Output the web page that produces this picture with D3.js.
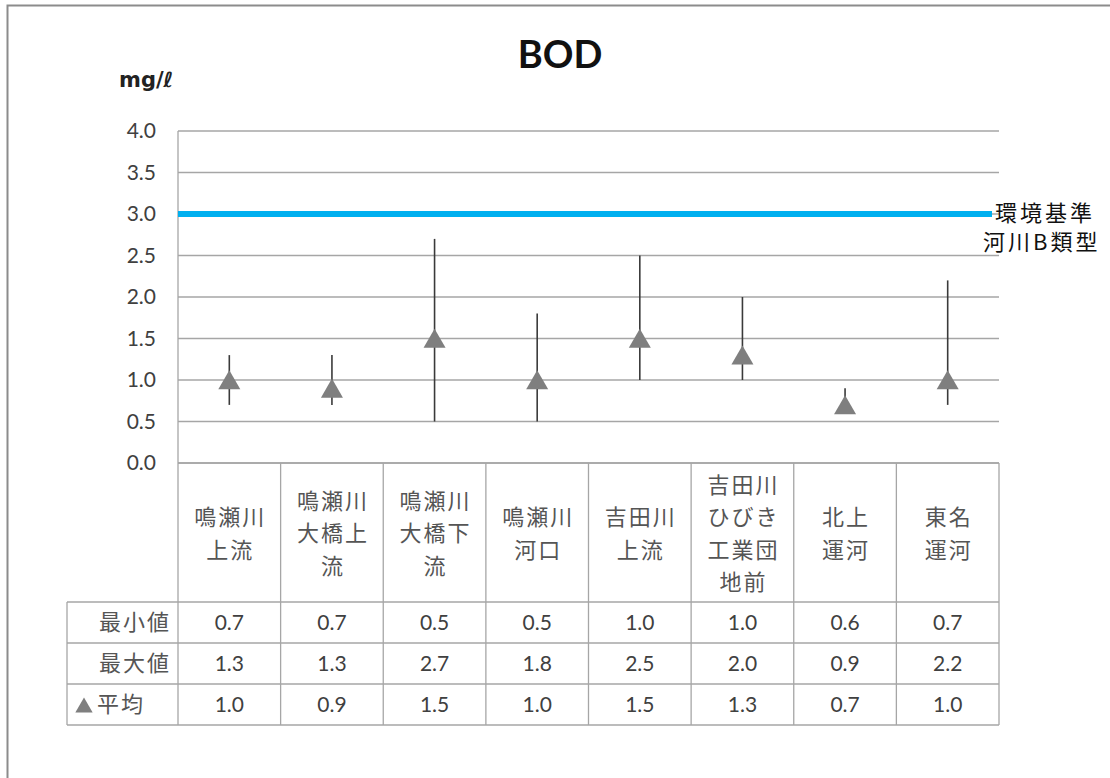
<!DOCTYPE html>
<html lang="ja">
<head>
<meta charset="UTF-8">
<title>BOD</title>
<script src="https://d3js.org/d3.v7.min.js"></script>
<style>
  body { margin: 0; background: #fff; }
  svg { display: block; }
  .num { font-family: Lato, 'Open Sans', sans-serif; fill: #404040; }
  .jp { font-family: 'Noto Sans CJK JP', sans-serif; fill: #555; }
</style>
</head>
<body>
<div id="chart"></div>
<script>
  // data
  const sites = [
    ["鳴瀬川", "上流"],
    ["鳴瀬川", "大橋上", "流"],
    ["鳴瀬川", "大橋下", "流"],
    ["鳴瀬川", "河口"],
    ["吉田川", "上流"],
    ["吉田川", "ひびき", "工業団", "地前"],
    ["北上", "運河"],
    ["東名", "運河"]
  ];
  const minVals = [0.7, 0.7, 0.5, 0.5, 1.0, 1.0, 0.6, 0.7];
  const maxVals = [1.3, 1.3, 2.7, 1.8, 2.5, 2.0, 0.9, 2.2];
  const meanVals = [1.0, 0.9, 1.5, 1.0, 1.5, 1.3, 0.7, 1.0];
  const yTicks = [0, 0.5, 1.0, 1.5, 2.0, 2.5, 3.0, 3.5, 4.0];
  const standardValue = 3.0;
  const rowLabels = ["最小値", "最大値", "平均"];

  const W = 1110, H = 778;
  const plot = { left: 178, right: 999, top: 131, bottom: 463 };
  const tableLeft = 67;
  const headerBottom = 602;
  const rowH = 41;

  const svg = d3.select("#chart").append("svg")
    .attr("width", W).attr("height", H);

  // outer frame (left and top edges visible)
  svg.append("path")
    .attr("d", `M7.5,${H} L7.5,5.5 L${W},5.5`)
    .attr("fill", "none").attr("stroke", "#8c8c8c").attr("stroke-width", 2);

  const x = d3.scaleBand()
    .domain(d3.range(sites.length))
    .range([plot.left, plot.right]);

  const y = d3.scaleLinear()
    .domain([0, 4])
    .range([plot.bottom, plot.top]);

  // gridlines
  svg.append("g").selectAll("line")
    .data(yTicks)
    .join("line")
    .attr("x1", plot.left).attr("x2", plot.right)
    .attr("y1", d => y(d)).attr("y2", d => y(d))
    .attr("stroke", "#a6a6a6").attr("stroke-width", 1.3);

  // y axis
  svg.append("line")
    .attr("x1", plot.left).attr("x2", plot.left)
    .attr("y1", plot.top).attr("y2", plot.bottom)
    .attr("stroke", "#a6a6a6").attr("stroke-width", 1.3);

  svg.append("g").selectAll("text")
    .data(yTicks)
    .join("text")
    .attr("class", "num")
    .attr("x", 156).attr("y", d => y(d))
    .attr("dy", "0.35em")
    .attr("text-anchor", "end")
    .attr("font-size", 21)
    .text(d => d.toFixed(1));

  // environmental standard line
  svg.append("line")
    .attr("x1", plot.left).attr("x2", 992)
    .attr("y1", y(standardValue)).attr("y2", y(standardValue))
    .attr("stroke", "#00b0f0").attr("stroke-width", 6);

  svg.append("text")
    .attr("class", "jp")
    .attr("x", 995).attr("y", y(standardValue) - 1)
    .attr("dy", "0.38em")
    .attr("font-size", 22)
    .attr("letter-spacing", 3)
    .style("fill", "#111")
    .text("環境基準");
  svg.append("text")
    .attr("class", "jp")
    .attr("x", 983).attr("y", y(standardValue) + 28)
    .attr("dy", "0.38em")
    .attr("font-size", 22)
    .attr("letter-spacing", 3)
    .style("fill", "#111")
    .text("河川B類型");

  // min-max lines
  const cx = i => x(i) + x.bandwidth() / 2;
  svg.append("g").selectAll("line")
    .data(d3.range(sites.length))
    .join("line")
    .attr("x1", cx).attr("x2", cx)
    .attr("y1", i => y(minVals[i])).attr("y2", i => y(maxVals[i]))
    .attr("stroke", "#3a3a3a").attr("stroke-width", 1.6);

  // mean triangles
  const tri = d3.symbol().type(d3.symbolTriangle).size(210);
  svg.append("g").selectAll("path")
    .data(d3.range(sites.length))
    .join("path")
    .attr("d", tri)
    .attr("transform", i => `translate(${cx(i)},${y(meanVals[i]) + 3})`)
    .attr("fill", "#7f7f7f");

  // title and unit
  svg.append("text")
    .attr("x", 560).attr("y", 68)
    .attr("text-anchor", "middle")
    .attr("font-family", "Lato, 'Open Sans', sans-serif")
    .attr("font-weight", "bold")
    .attr("font-size", 38)
    .attr("fill", "#111")
    .text("BOD");

  svg.append("text")
    .attr("x", 119).attr("y", 87)
    .attr("font-family", "'DejaVu Sans', sans-serif")
    .attr("font-weight", "bold")
    .attr("font-size", 21)
    .attr("fill", "#222")
    .text("mg/ℓ");

  // table grid
  const tableBottom = headerBottom + rowH * rowLabels.length;
  const grid = svg.append("g")
    .attr("stroke", "#a6a6a6").attr("stroke-width", 1.3).attr("fill", "none");

  grid.append("line")
    .attr("x1", plot.left).attr("x2", plot.right)
    .attr("y1", plot.bottom).attr("y2", plot.bottom);
  d3.range(rowLabels.length + 1).forEach(r => {
    grid.append("line")
      .attr("x1", tableLeft).attr("x2", plot.right)
      .attr("y1", headerBottom + r * rowH).attr("y2", headerBottom + r * rowH);
  });
  d3.range(sites.length + 1).forEach(i => {
    const xx = i < sites.length ? x(i) : plot.right;
    grid.append("line")
      .attr("x1", xx).attr("x2", xx)
      .attr("y1", plot.bottom).attr("y2", tableBottom);
  });
  grid.append("line")
    .attr("x1", tableLeft).attr("x2", tableLeft)
    .attr("y1", headerBottom).attr("y2", tableBottom);

  // header labels
  const headerMid = (plot.bottom + headerBottom) / 2 + 1;
  sites.forEach((lines, i) => {
    const t = svg.append("text")
      .attr("class", "jp")
      .attr("text-anchor", "middle")
      .attr("font-size", 22)
      .attr("letter-spacing", 2);
    lines.forEach((ln, k) => {
      t.append("tspan")
        .attr("x", cx(i) + 1)
        .attr("y", headerMid + (k - (lines.length - 1) / 2) * 32.5)
        .attr("dy", "0.36em")
        .text(ln);
    });
  });

  // row labels
  rowLabels.forEach((lab, r) => {
    const yy = headerBottom + r * rowH + rowH / 2;
    const last = r === rowLabels.length - 1;
    svg.append("text")
      .attr("class", "jp")
      .attr("x", last ? 97 : 171).attr("y", yy)
      .attr("dy", "0.36em")
      .attr("text-anchor", last ? "start" : "end")
      .attr("font-size", 22)
      .attr("letter-spacing", 2)
      .text(lab);
  });
  svg.append("path")
    .attr("d", d3.symbol().type(d3.symbolTriangle).size(130))
    .attr("transform", `translate(84,${headerBottom + 2 * rowH + rowH / 2 + 3})`)
    .attr("fill", "#7f7f7f");

  // table values
  [minVals, maxVals, meanVals].forEach((vals, r) => {
    const yy = headerBottom + r * rowH + rowH / 2;
    svg.append("g").selectAll("text")
      .data(vals)
      .join("text")
      .attr("class", "num")
      .attr("x", (d, i) => cx(i)).attr("y", yy)
      .attr("dy", "0.35em")
      .attr("text-anchor", "middle")
      .attr("font-size", 21)
      .text(d => d.toFixed(1));
  });
</script>
</body>
</html>
